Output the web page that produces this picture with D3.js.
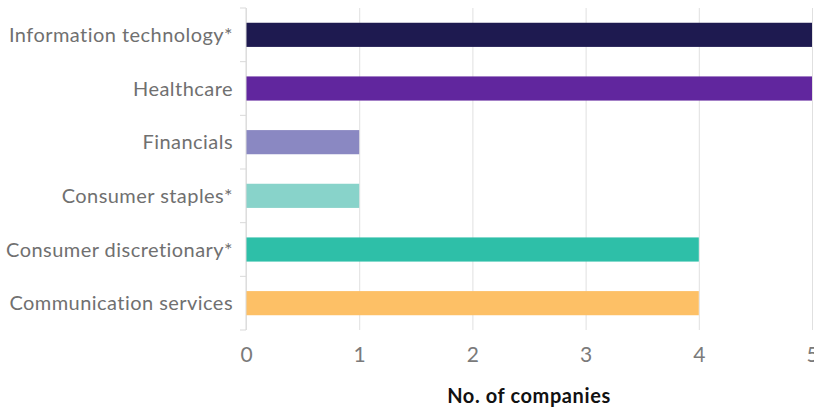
<!DOCTYPE html>
<html>
<head>
<meta charset="utf-8">
<script src="https://cdn.jsdelivr.net/npm/d3@7"></script>
<style>
  body { margin: 0; background: #fff; }
</style>
</head>
<body>
<div id="chart"></div>
<script>
const sectors = ['Information technology*', 'Healthcare', 'Financials', 'Consumer staples*', 'Consumer discretionary*', 'Communication services'];
const companies = [5, 5, 1, 1, 4, 4];
const colors = ['#1e1a50', '#61269e', '#8a88c2', '#88d3ca', '#2ebfa8', '#fdc066'];
const xTicks = [0, 1, 2, 3, 4, 5];

const width = 814;
const height = 411;
const margin = { top: 8, right: 2, bottom: 81, left: 246 };
const innerW = width - margin.left - margin.right;
const innerH = height - margin.top - margin.bottom;
const font = "Lato, 'Open Sans', sans-serif";

const x = d3.scaleLinear().domain([0, 5]).range([0, 566]);
const y = d3.scaleBand().domain(sectors).range([0, innerH]).paddingInner(0.55).paddingOuter(0.275);

const svg = d3.select('#chart').append('svg')
  .attr('width', width).attr('height', height)
  .style('font-family', font)
  .append('g')
  .attr('transform', `translate(${margin.left},${margin.top})`);

// Gridlines
svg.append('g')
  .call(d3.axisBottom(x).tickValues(xTicks).tickSize(innerH).tickFormat(''))
  .call(g => g.select('.domain').remove())
  .call(g => g.selectAll('.tick line').attr('stroke', '#e0e0e0'));

// Bars
svg.selectAll('rect.bar')
  .data(sectors)
  .join('rect')
  .attr('class', 'bar')
  .attr('x', 0)
  .attr('y', d => y(d))
  .attr('width', (d, i) => x(companies[i]))
  .attr('height', y.bandwidth())
  .attr('fill', (d, i) => colors[i]);

// Y axis line + ticks at band boundaries
const yAxis = svg.append('g');
yAxis.append('line')
  .attr('x1', 0).attr('x2', 0).attr('y1', 0).attr('y2', innerH)
  .attr('stroke', '#d9d9d9');
const step = y.step();
yAxis.selectAll('line.bound')
  .data(d3.range(sectors.length + 1))
  .join('line')
  .attr('class', 'bound')
  .attr('x1', -6).attr('x2', 0)
  .attr('y1', i => i * step).attr('y2', i => i * step)
  .attr('stroke', '#d9d9d9');

yAxis.selectAll('text')
  .data(sectors)
  .join('text')
  .attr('x', -13)
  .attr('y', d => y(d) + y.bandwidth() / 2)
  .attr('dy', '0.35em')
  .attr('text-anchor', 'end')
  .attr('font-size', '20px')
  .attr('letter-spacing', '0.45px')
  .attr('fill', '#707070')
  .text(d => d);

// X axis labels
svg.append('g')
  .attr('transform', `translate(0,${innerH})`)
  .call(d3.axisBottom(x).tickValues(xTicks).tickSize(0).tickPadding(17).tickFormat(d3.format('d')))
  .call(g => g.select('.domain').remove())
  .call(g => g.selectAll('.tick text')
    .attr('font-family', font)
    .attr('font-size', '21px')
    .attr('fill', '#7a7a7a'));

// Axis title
svg.append('text')
  .attr('x', x(2.5))
  .attr('y', innerH + 73)
  .attr('text-anchor', 'middle')
  .attr('font-size', '20px')
  .attr('font-weight', '700')
  .attr('letter-spacing', '0.6px')
  .attr('fill', '#111')
  .text('No. of companies');
</script>
</body>
</html>
